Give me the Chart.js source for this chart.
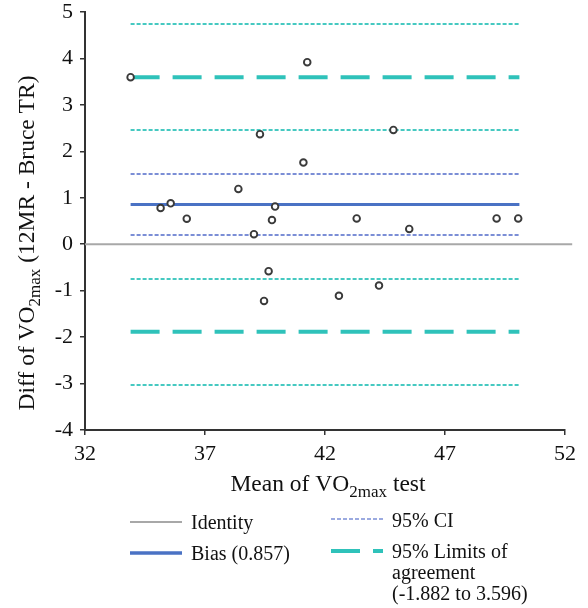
<!DOCTYPE html>
<html>
<head>
<meta charset="utf-8">
<script src="https://cdn.jsdelivr.net/npm/chart.js@4/dist/chart.umd.min.js"></script>
<style>
  html, body { margin: 0; padding: 0; background: #ffffff; }
  #wrap { width: 588px; height: 608px; position: relative; }
</style>
</head>
<body>
<div id="wrap"><canvas id="ba"></canvas></div>
<script>
// Bland-Altman: 12MR vs Bruce treadmill VO2max
const meanValues = [33.9, 41.26, 39.29, 41.1, 38.39, 35.15, 35.57, 36.24, 39.92, 39.79,
                    44.85, 43.32, 45.51, 49.15, 50.05, 39.04, 39.65, 39.46, 42.58, 44.25];
const diffValues = [3.596, 3.92, 2.37, 1.76, 1.19, 0.78, 0.88, 0.55, 0.81, 0.52,
                    2.46, 0.555, 0.33, 0.555, 0.555, 0.216, -0.58, -1.22, -1.11, -0.89];

const xTickValues = [32, 37, 42, 47, 52];
const yTickValues = [-4, -3, -2, -1, 0, 1, 2, 3, 4, 5];

const bias = 0.857;
const biasCI = [0.20, 1.51];
const limitsOfAgreement = [-1.882, 3.596];
const upperLimitCI = [2.46, 4.74];
const lowerLimitCI = [-3.03, -0.75];
const lineSpan = [33.9, 50.1];
const identitySpan = [32, 52.3];

const FONT = "'Liberation Serif', 'Times New Roman', serif";
const TEAL = '#2fc2ba';
const TEAL_LIGHT = '#46c9c1';
const BLUE = '#4a72c4';
const BLUE_LIGHT = '#7b8ed6';
const GREY = '#a8a8a8';

const hline = (y, span) => [{ x: span[0], y }, { x: span[1], y }];

const lineDefaults = { type: 'line', showLine: true, pointRadius: 0, pointHoverRadius: 0, fill: false, tension: 0 };

const datasets = [
  {
    type: 'scatter',
    label: 'Differences',
    data: meanValues.map((m, i) => ({ x: m, y: diffValues[i] })),
    pointRadius: 3.3,
    pointBorderWidth: 1.9,
    pointBorderColor: '#3a3a3a',
    pointBackgroundColor: '#ffffff',
    showLine: false
  },
  { ...lineDefaults, label: 'Bias (0.857)', data: hline(bias, lineSpan), borderColor: BLUE, borderWidth: 3 },
  { ...lineDefaults, label: '95% CI', data: hline(biasCI[0], lineSpan), borderColor: BLUE_LIGHT, borderWidth: 2, borderDash: [4, 2] },
  { ...lineDefaults, label: '95% CI', data: hline(biasCI[1], lineSpan), borderColor: BLUE_LIGHT, borderWidth: 2, borderDash: [4, 2] },
  { ...lineDefaults, label: 'LoA', data: hline(limitsOfAgreement[0], lineSpan), borderColor: TEAL, borderWidth: 4, borderDash: [29, 13] },
  { ...lineDefaults, label: 'LoA', data: hline(limitsOfAgreement[1], lineSpan), borderColor: TEAL, borderWidth: 4, borderDash: [29, 13] },
  { ...lineDefaults, label: 'LoA CI', data: hline(upperLimitCI[0], lineSpan), borderColor: TEAL_LIGHT, borderWidth: 2, borderDash: [4, 2] },
  { ...lineDefaults, label: 'LoA CI', data: hline(upperLimitCI[1], lineSpan), borderColor: TEAL_LIGHT, borderWidth: 2, borderDash: [4, 2] },
  { ...lineDefaults, label: 'LoA CI', data: hline(lowerLimitCI[0], lineSpan), borderColor: TEAL_LIGHT, borderWidth: 2, borderDash: [4, 2] },
  { ...lineDefaults, label: 'LoA CI', data: hline(lowerLimitCI[1], lineSpan), borderColor: TEAL_LIGHT, borderWidth: 2, borderDash: [4, 2] },
  { ...lineDefaults, label: 'Identity', data: hline(0, identitySpan), borderColor: GREY, borderWidth: 2, clip: false }
];

// text with a subscript run, e.g. VO2max
function drawRich(ctx, parts, cx, baseline, size, subSize) {
  const widths = parts.map(p => {
    ctx.font = (p.sub ? subSize : size) + 'px ' + FONT;
    return ctx.measureText(p.t).width;
  });
  const total = widths.reduce((a, b) => a + b, 0);
  let x = cx - total / 2;
  parts.forEach((p, i) => {
    ctx.font = (p.sub ? subSize : size) + 'px ' + FONT;
    ctx.fillText(p.t, x, baseline + (p.sub ? 6 : 0));
    x += widths[i];
  });
}

const annotations = {
  id: 'annotations',
  afterDraw(chart) {
    const ctx = chart.ctx;
    ctx.save();
    ctx.fillStyle = '#111111';
    ctx.textAlign = 'left';
    ctx.textBaseline = 'alphabetic';

    // x axis title
    drawRich(ctx, [{ t: 'Mean of VO' }, { t: '2max', sub: true }, { t: ' test' }], 328, 491, 23.5, 17);

    // y axis title
    ctx.save();
    ctx.translate(34, 243);
    ctx.rotate(-Math.PI / 2);
    drawRich(ctx, [{ t: 'Diff of VO' }, { t: '2max', sub: true }, { t: ' (12MR - Bruce TR)' }], 0, 0, 23.5, 17);
    ctx.restore();

    // legend
    const seg = (x1, x2, y, color, width, dash) => {
      ctx.save();
      ctx.beginPath();
      ctx.strokeStyle = color;
      ctx.lineWidth = width;
      ctx.setLineDash(dash || []);
      ctx.moveTo(x1, y);
      ctx.lineTo(x2, y);
      ctx.stroke();
      ctx.restore();
    };
    ctx.font = '20px ' + FONT;
    seg(130, 182, 522, GREY, 2);
    ctx.fillText('Identity', 191, 529);
    seg(130, 182, 553, BLUE, 3.5);
    ctx.fillText('Bias (0.857)', 191, 560);
    seg(331, 383, 519, BLUE_LIGHT, 1.5, [4, 2]);
    ctx.fillText('95% CI', 392, 527);
    seg(331, 383, 551, TEAL, 4, [29, 13]);
    ctx.fillText('95% Limits of', 392, 558);
    ctx.fillText('agreement', 392, 579);
    ctx.fillText('(-1.882 to 3.596)', 392, 600);
    ctx.restore();
  }
};

new Chart(document.getElementById('ba'), {
  type: 'scatter',
  data: { datasets },
  options: {
    responsive: true,
    maintainAspectRatio: false,
    animation: false,
    events: [],
    layout: { padding: { left: 0, right: 23, top: 12, bottom: 138 } },
    plugins: { legend: { display: false }, tooltip: { enabled: false } },
    scales: {
      x: {
        type: 'linear',
        min: 32,
        max: 52,
        afterBuildTicks: s => { s.ticks = xTickValues.map(v => ({ value: v })); },
        afterFit: s => { s.height = 40; s.paddingLeft = 0; s.paddingRight = 0; },
        ticks: { font: { family: FONT, size: 22 }, color: '#111111', padding: 6, maxRotation: 0 },
        grid: { display: true, drawOnChartArea: false, drawTicks: true, tickLength: 5, color: '#333333', lineWidth: 1.5 },
        border: { display: true, color: '#333333', width: 2 }
      },
      y: {
        type: 'linear',
        min: -4,
        max: 5,
        afterBuildTicks: s => { s.ticks = yTickValues.map(v => ({ value: v })); },
        afterFit: s => { s.width = 85; s.paddingTop = 0; s.paddingBottom = 0; },
        ticks: { font: { family: FONT, size: 22 }, color: '#111111', padding: 7 },
        grid: { display: true, drawOnChartArea: false, drawTicks: true, tickLength: 5, color: '#333333', lineWidth: 1.5 },
        border: { display: true, color: '#333333', width: 2 }
      }
    }
  },
  plugins: [annotations]
});
</script>
</body>
</html>
